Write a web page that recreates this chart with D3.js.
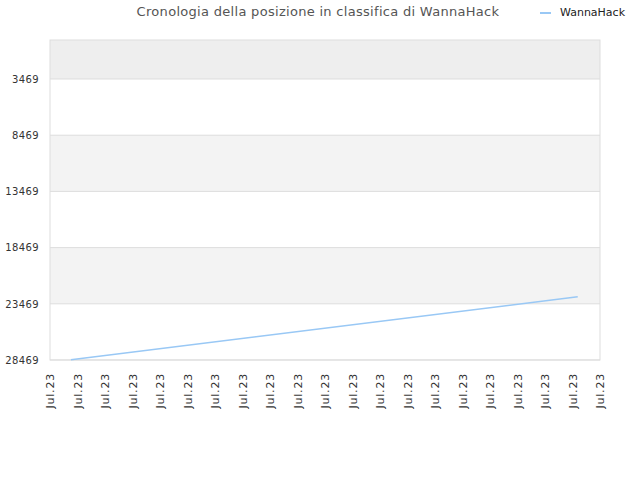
<!DOCTYPE html>
<html>
<head>
<meta charset="utf-8">
<script src="https://cdn.jsdelivr.net/npm/d3@7"></script>
<style>
body { margin: 0; background: #fff; }
text { font-family: "DejaVu Sans", sans-serif; }
</style>
</head>
<body>
<div id="chart"></div>
<script>
const tickLabels = d3.range(21).map(() => "Jul.23");
const tickPositions = d3.range(21);
const rankTicks = [3469, 8469, 13469, 18469, 23469, 28469];
const pointIndex = [0.76, 19.19];
const pointRank = [28440, 22840];
const seriesName = "WannaHack";

const margin = {top: 40, right: 40, bottom: 120, left: 50},
    width = 640 - margin.left - margin.right,
    height = 480 - margin.top - margin.bottom;

const svg = d3.select("#chart")
    .append("svg")
    .attr("width", 640)
    .attr("height", 480);

const g = svg.append("g")
    .attr("transform", `translate(${margin.left},${margin.top})`);

const x = d3.scaleLinear()
    .domain([0, 20])
    .range([0, width]);

const y = d3.scaleLinear()
    .domain([0, 28469])
    .range([0, height]);

// alternating bands
const bandEdges = [0].concat(rankTicks);
const bandFill = ["#eeeeee", "#ffffff", "#f3f3f3", "#ffffff", "#f3f3f3", "#ffffff"];
g.selectAll("rect.band")
    .data(d3.pairs(bandEdges))
    .enter()
    .append("rect")
    .attr("class", "band")
    .attr("x", 0)
    .attr("width", width)
    .attr("y", d => y(d[0]))
    .attr("height", d => y(d[1]) - y(d[0]))
    .style("fill", (d, i) => bandFill[i]);

g.selectAll("line.grid")
    .data(rankTicks)
    .enter()
    .append("line")
    .attr("class", "grid")
    .attr("x1", 0)
    .attr("x2", width)
    .attr("y1", d => y(d))
    .attr("y2", d => y(d))
    .style("stroke", "#dddddd");

g.append("rect")
    .attr("width", width)
    .attr("height", height)
    .style("fill", "none")
    .style("stroke", "#dddddd");

// y axis labels
const yAxis = g.append("g")
    .call(d3.axisLeft(y).tickValues(rankTicks).tickFormat(d3.format("d")).tickSize(0).tickPadding(11));
yAxis.select(".domain").remove();
yAxis.selectAll("text")
    .style("font-size", "10px")
    .style("letter-spacing", "0.4px")
    .style("fill", "#333")
    .style("font-family", "DejaVu Sans, sans-serif");

// x axis labels
const xAxis = g.append("g")
    .attr("transform", `translate(0,${height})`)
    .call(d3.axisBottom(x).tickValues(tickPositions).tickFormat((d, i) => tickLabels[i]).tickSize(0));
xAxis.select(".domain").remove();
xAxis.selectAll("text")
    .attr("transform", "rotate(-90)")
    .attr("text-anchor", "end")
    .attr("x", -13)
    .attr("y", 0)
    .attr("dy", "0.35em")
    .style("font-size", "11px")
    .style("letter-spacing", "0.8px")
    .style("fill", "#333")
    .style("font-family", "DejaVu Sans, sans-serif");

// line
const lineData = pointIndex.map((d, i) => ({i: d, r: pointRank[i]}));
g.append("path")
    .datum(lineData)
    .attr("d", d3.line().x(d => x(d.i)).y(d => y(d.r)))
    .style("fill", "none")
    .style("stroke", "#99c8f5")
    .style("stroke-width", 1.5);

// title
svg.append("text")
    .attr("x", 318)
    .attr("y", 16)
    .attr("text-anchor", "middle")
    .style("font-size", "13px")
    .style("letter-spacing", "0.3px")
    .style("fill", "#555")
    .text("Cronologia della posizione in classifica di " + seriesName);

// legend
svg.append("line")
    .attr("x1", 540)
    .attr("x2", 551)
    .attr("y1", 13)
    .attr("y2", 13)
    .style("stroke", "#99c8f5")
    .style("stroke-width", 2);

svg.append("text")
    .attr("x", 560)
    .attr("y", 16)
    .style("font-size", "11px")
    .style("fill", "#222")
    .text(seriesName);
</script>
</body>
</html>
